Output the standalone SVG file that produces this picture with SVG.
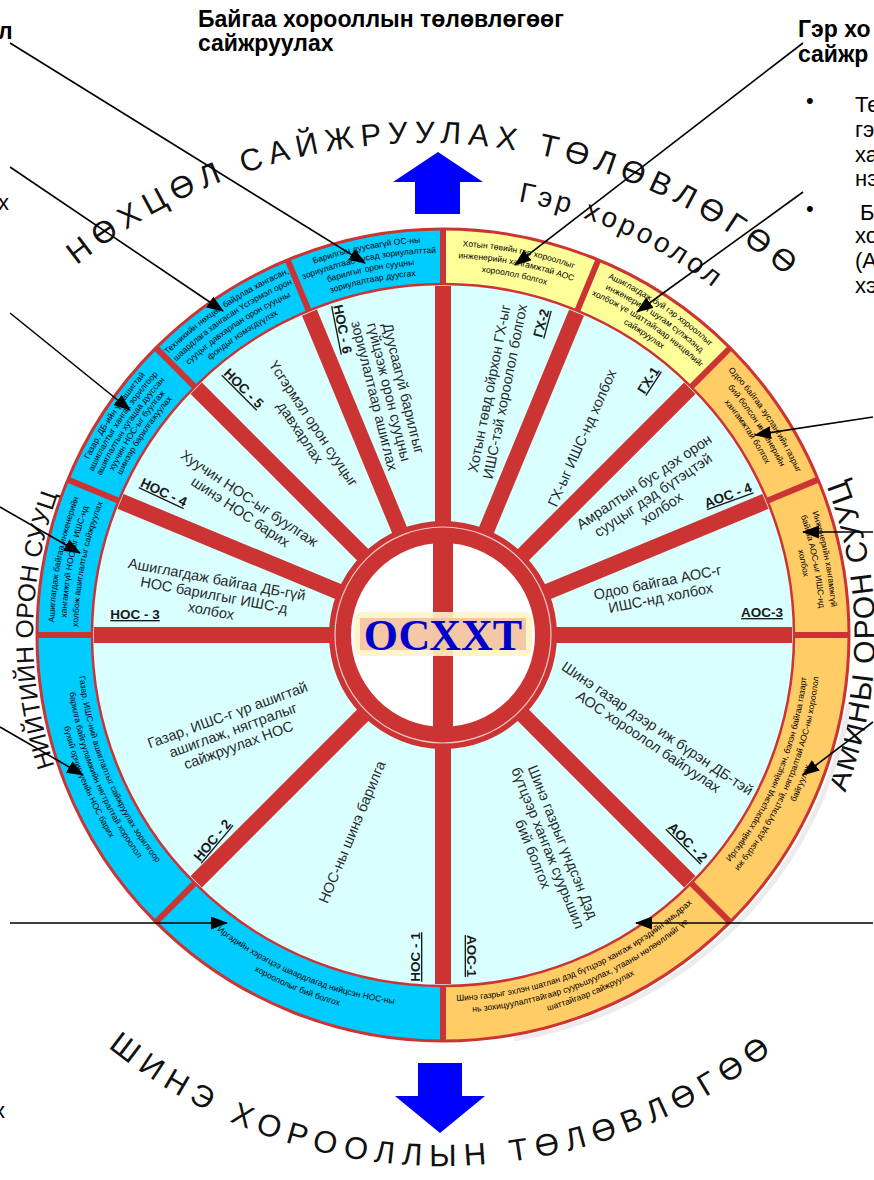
<svg xmlns="http://www.w3.org/2000/svg" width="874" height="1180" viewBox="0 0 874 1180">
<defs>
<style>
.title{font-family:"Liberation Sans",Arial,"DejaVu Sans",sans-serif;font-weight:bold;font-size:23px;fill:#000}
.body{font-family:"Liberation Sans",Arial,"DejaVu Sans",sans-serif;font-size:22px;fill:#000}
.arc{font-family:"Liberation Sans",Arial,"DejaVu Sans",sans-serif;fill:#111}
.rt{font-family:"Liberation Sans",Arial,"DejaVu Sans",sans-serif;font-size:8.5px;fill:#000;text-anchor:middle}
.it{font-family:"Liberation Sans",Arial,"DejaVu Sans",sans-serif;font-size:14.5px;fill:#2a2a2a;text-anchor:middle}
.lb{font-family:"Liberation Sans",Arial,"DejaVu Sans",sans-serif;font-size:13.5px;font-weight:bold;fill:#1a1a1a;text-anchor:middle;text-decoration:underline}
.spoke{stroke:#CC3333;stroke-width:16}
.div{stroke:#CC3333;stroke-width:6}
.conn{stroke:#000;stroke-width:1.6;fill:none;marker-end:url(#ah)}
.bigarrow{fill:#0000FF}
</style>
<marker id="ah" markerUnits="userSpaceOnUse" markerWidth="17" markerHeight="13" refX="16" refY="6.5" orient="auto">
<path d="M0,0 L17,6.5 L0,13 Z" fill="#000"/>
</marker>
<!-- spoke and ring divider, pointing up from the hub centre -->
<line id="spoke" class="spoke" x1="443" y1="635" x2="443" y2="286"/>
<line id="div" class="div" x1="443" y1="284" x2="443" y2="229"/>
<!-- arcs for the ring captions: upper ones run clockwise over the top, lower ones counter-clockwise under the bottom -->
<path id="u395" d="M163.69 355.69 A395 395 0 0 1 722.31 355.69"/>
<path id="u393" d="M165.11 357.11 A393 393 0 0 1 720.89 357.11"/>
<path id="u389" d="M167.94 359.94 A389 389 0 0 1 718.06 359.94"/>
<path id="u386" d="M170.06 362.06 A386 386 0 0 1 715.94 362.06"/>
<path id="u382" d="M172.88 364.88 A382 382 0 0 1 713.12 364.88"/>
<path id="u377" d="M176.42 368.42 A377 377 0 0 1 709.58 368.42"/>
<path id="u371" d="M180.66 372.66 A371 371 0 0 1 705.34 372.66"/>
<path id="u368" d="M182.78 374.78 A368 368 0 0 1 703.22 374.78"/>
<path id="u365" d="M184.91 376.91 A365 365 0 0 1 701.09 376.91"/>
<path id="u360" d="M188.44 380.44 A360 360 0 0 1 697.56 380.44"/>
<path id="u359" d="M189.15 381.15 A359 359 0 0 1 696.85 381.15"/>
<path id="l366" d="M184.20 893.80 A366 366 0 0 0 701.80 893.80"/>
<path id="l372" d="M179.96 898.04 A372 372 0 0 0 706.04 898.04"/>
<path id="l378" d="M175.71 902.29 A378 378 0 0 0 710.29 902.29"/>
<path id="l385" d="M170.76 907.24 A385 385 0 0 0 715.24 907.24"/>
<path id="l390" d="M167.23 910.77 A390 390 0 0 0 718.77 910.77"/>
<!-- arcs for the big captions around the wheel -->
<path id="tTop" d="M-98.4 509.5 A557 557 0 0 1 948.4 509.5"/>
<path id="tGer" d="M223 253.95 A440 440 0 0 1 883 635"/>
<path id="tLeft" d="M153.1 924.9 A410 410 0 0 1 153.1 345.1"/>
<path id="tRight" d="M748.5 940.5 A432 432 0 0 0 748.5 329.5"/>
<path id="tBot" d="M-56 816.6 A531 531 0 0 0 942 816.6"/>
</defs>

<rect width="874" height="1180" fill="#fff"/>

<!-- headings and side notes -->
<g id="heading-left">
<text class="title" x="-2" y="39">л</text>
<text class="body" x="-2" y="210">х</text>
<text class="body" x="-6" y="1118">х</text>
</g>
<g id="heading-existing">
<text class="title" x="198" y="27">Байгаа хорооллын төлөвлөгөөг</text>
<text class="title" x="198" y="51">сайжруулах</text>
</g>
<g id="heading-ger">
<text class="title" x="798" y="37">Гэр хо</text>
<text class="title" x="798" y="62">сайжр</text>
</g>
<g id="note-right">
<text class="body" x="806" y="108">•</text>
<text class="body" x="855" y="112">Те</text>
<text class="body" x="855" y="137">гэ</text>
<text class="body" x="855" y="162">ха</text>
<text class="body" x="855" y="186" fill="#FF0000">нэ</text>
<text class="body" x="806" y="216">•</text>
<text class="body" x="860" y="220">Ба</text>
<text class="body" x="855" y="243">хо</text>
<text class="body" x="855" y="268">(А</text>
<text class="body" x="855" y="293">хэ</text>
</g>

<!-- big captions on arcs -->
<g id="caption-top">
<text class="arc" font-size="31" letter-spacing="6.9" text-anchor="middle"><textPath href="#tTop" startOffset="692">НӨХЦӨЛ САЙЖРУУЛАХ ТӨЛӨВЛӨГӨӨ</textPath></text>
</g>
<g id="caption-ger">
<text class="arc" font-size="28" letter-spacing="3.5" text-anchor="middle"><textPath href="#tGer" startOffset="415">Гэр хороолол</textPath></text>
</g>
<g id="caption-left">
<text class="arc" font-size="24.5" letter-spacing="0.3" text-anchor="middle"><textPath href="#tLeft" startOffset="327">НИЙТИЙН ОРОН СУУЦ</textPath></text>
</g>
<g id="caption-right">
<text class="arc" font-size="30" letter-spacing="1.5" text-anchor="middle"><textPath href="#tRight" startOffset="50%">АМИНЫ ОРОН СУУЦ</textPath></text>
</g>
<g id="caption-bottom">
<text class="arc" font-size="31" letter-spacing="7.7" text-anchor="middle"><textPath href="#tBot" startOffset="50%">ШИНЭ ХОРООЛЛЫН ТӨЛӨВЛӨГӨӨ</textPath></text>
</g>

<!-- direction arrows -->
<g id="arrow-up"><polygon class="bigarrow" points="438,152 483,182 460,182 460,214 415,214 415,182 393,182"/></g>
<g id="arrow-down"><polygon class="bigarrow" points="418,1063 462,1063 462,1096 485,1096 440,1133 395,1096 418,1096"/></g>

<!-- the wheel -->
<g id="wheel">
<path d="M510 1035 A406 406 0 0 0 845 700" fill="none" stroke="#ececec" stroke-width="5" transform="translate(4 4)"/>
<circle cx="443" cy="635" r="378.5" fill="none" stroke="#00CCFF" stroke-width="55"/>
<path d="M443 229 A406 406 0 0 1 730.1 347.9 L691.2 386.8 A351 351 0 0 0 443 284 Z" fill="#FFFF99"/>
<path d="M730.1 347.9 A406 406 0 0 1 443 1041 L443 986 A351 351 0 0 0 691.2 386.8 Z" fill="#FFCC66"/>
<circle cx="443" cy="635" r="406" fill="none" stroke="#CC3333" stroke-width="3"/>
<circle cx="443" cy="635" r="351" fill="#D9FFFF" stroke="#CC3333" stroke-width="2.5"/>
<g id="ring-dividers">
<use href="#div"/>
<use href="#div" transform="rotate(22.5 443 635)"/>
<use href="#div" transform="rotate(45 443 635)"/>
<use href="#div" transform="rotate(67.5 443 635)"/>
<use href="#div" transform="rotate(90 443 635)"/>
<use href="#div" transform="rotate(135 443 635)"/>
<use href="#div" transform="rotate(180 443 635)"/>
<use href="#div" transform="rotate(225 443 635)"/>
<use href="#div" transform="rotate(270 443 635)"/>
<use href="#div" transform="rotate(292.5 443 635)"/>
<use href="#div" transform="rotate(315 443 635)"/>
<use href="#div" transform="rotate(337.5 443 635)"/>
</g>
<g id="spokes">
<use href="#spoke"/>
<use href="#spoke" transform="rotate(22.5 443 635)"/>
<use href="#spoke" transform="rotate(45 443 635)"/>
<use href="#spoke" transform="rotate(67.5 443 635)"/>
<use href="#spoke" transform="rotate(90 443 635)"/>
<use href="#spoke" transform="rotate(135 443 635)"/>
<use href="#spoke" transform="rotate(180 443 635)"/>
<use href="#spoke" transform="rotate(225 443 635)"/>
<use href="#spoke" transform="rotate(270 443 635)"/>
<use href="#spoke" transform="rotate(292.5 443 635)"/>
<use href="#spoke" transform="rotate(315 443 635)"/>
<use href="#spoke" transform="rotate(337.5 443 635)"/>
</g>
</g>

<!-- ring captions, one group per segment -->
<g id="ring-gh2" transform="rotate(11.25 443 635)">
<text class="rt"><textPath href="#u389" startOffset="50%">Хотын төвийн гэр хорооллыг</textPath></text>
<text class="rt"><textPath href="#u377" startOffset="50%">инженерийн хангамжтай АОС</textPath></text>
<text class="rt"><textPath href="#u365" startOffset="50%">хороолол болгох</textPath></text>
</g>
<g id="ring-gh1" transform="rotate(33.75 443 635)">
<text class="rt"><textPath href="#u393" startOffset="50%">Ашиглагдаж буй гэр хорооллыг</textPath></text>
<text class="rt"><textPath href="#u382" startOffset="50%">инженерийн шугам сүлжээнд</textPath></text>
<text class="rt"><textPath href="#u371" startOffset="50%">холбож үе шаттайгаар нөхцөлийг</textPath></text>
<text class="rt"><textPath href="#u360" startOffset="50%">сайжруулах</textPath></text>
</g>
<g id="ring-aos4" transform="rotate(56.25 443 635)">
<text class="rt"><textPath href="#u389" startOffset="50%">Одоо байгаа зуслангийн газрыг</textPath></text>
<text class="rt"><textPath href="#u377" startOffset="50%">бий болсон инженерийн</textPath></text>
<text class="rt"><textPath href="#u365" startOffset="50%">хангамжтай болгох</textPath></text>
</g>
<g id="ring-aos3" transform="rotate(78.75 443 635)">
<text class="rt"><textPath href="#u389" startOffset="50%">Инженерийн хангамжгүй</textPath></text>
<text class="rt"><textPath href="#u377" startOffset="50%">байгаа АОС-ыг ИШС-нд</textPath></text>
<text class="rt"><textPath href="#u365" startOffset="50%">холбох</textPath></text>
</g>
<g id="ring-aos2" transform="rotate(-67.5 443 635)">
<text class="rt"><textPath href="#l366" startOffset="50%">Иргэдийн хэрэгцээнд нийцсэн, бэлэн байгаа газарт</textPath></text>
<text class="rt"><textPath href="#l378" startOffset="50%">иж бүрэн дэд бүтэцтэй, нягтралтай АОС-ны хороолол</textPath></text>
<text class="rt"><textPath href="#l390" startOffset="50%">байгуулах</textPath></text>
</g>
<g id="ring-aos1" transform="rotate(-22.5 443 635)">
<text class="rt"><textPath href="#l366" startOffset="50%">Шинэ газрыг эхлэн шатлан дэд бүтцээр хангаж иргэдийн амьдрах</textPath></text>
<text class="rt"><textPath href="#l378" startOffset="50%">нь зохицуулалттайгаар суурьшуулах, утааны нөлөөллийг үе</textPath></text>
<text class="rt"><textPath href="#l390" startOffset="50%">шаттайгаар сайжруулах</textPath></text>
</g>
<g id="ring-nos1" transform="rotate(22.5 443 635)">
<text class="rt"><textPath href="#l372" startOffset="50%">Иргэдийн хэрэгцээ шаардлагад нийцсэн НОС-ны</textPath></text>
<text class="rt"><textPath href="#l385" startOffset="50%">хороололыг бий болгох</textPath></text>
</g>
<g id="ring-nos2" transform="rotate(67.5 443 635)">
<text class="rt"><textPath href="#l366" startOffset="50%">Газар, ИШС-ний ашиглалтыг сайжруулах зорилгоор</textPath></text>
<text class="rt"><textPath href="#l378" startOffset="50%">барилга байгууламжийн нягтралтай хороолол</textPath></text>
<text class="rt"><textPath href="#l390" startOffset="50%">бүхий орчин үеийн НОС барих</textPath></text>
</g>
<g id="ring-nos3" transform="rotate(-78.75 443 635)">
<text class="rt"><textPath href="#u389" startOffset="50%">Ашиглагдаж байгаа инженерийн</textPath></text>
<text class="rt"><textPath href="#u377" startOffset="50%">хангамжгүй НОС-ыг ИШС-нд</textPath></text>
<text class="rt"><textPath href="#u365" startOffset="50%">холбож ашиглалтыг сайжруулах</textPath></text>
</g>
<g id="ring-nos4" transform="rotate(-56.25 443 635)">
<text class="rt"><textPath href="#u395" startOffset="50%">Газар, ДБ-ийн үр ашигтай</textPath></text>
<text class="rt"><textPath href="#u386" startOffset="50%">ашиглалтыг хангах зорилгоор</textPath></text>
<text class="rt"><textPath href="#u377" startOffset="50%">ашиглалтын хугацаа дууссан</textPath></text>
<text class="rt"><textPath href="#u368" startOffset="50%">хуучин НОС-ыг буулгаж</textPath></text>
<text class="rt"><textPath href="#u359" startOffset="50%">шинээр барилгажуулах</textPath></text>
</g>
<g id="ring-nos5" transform="rotate(-33.75 443 635)">
<text class="rt"><textPath href="#u393" startOffset="50%">Техникийн нөхцөл байдлаа хангасан,</textPath></text>
<text class="rt"><textPath href="#u382" startOffset="50%">шаардлага хангасан Үсгэрмэл орон</textPath></text>
<text class="rt"><textPath href="#u371" startOffset="50%">сууцыг давхарлан орон сууцны</textPath></text>
<text class="rt"><textPath href="#u360" startOffset="50%">фондыг нэмэгдүүлэх</textPath></text>
</g>
<g id="ring-nos6" transform="rotate(-11.25 443 635)">
<text class="rt"><textPath href="#u393" startOffset="50%">Барилгын дуусаагүй ОС-ны</textPath></text>
<text class="rt"><textPath href="#u382" startOffset="50%">зориулалтаас бусад зориулалттай</textPath></text>
<text class="rt"><textPath href="#u371" startOffset="50%">барилгыг орон сууцны</textPath></text>
<text class="rt"><textPath href="#u360" startOffset="50%">зориулалтаар дуусгах</textPath></text>
</g>

<!-- sector statements and codes -->
<g id="sector-gh2">
<text class="it" transform="translate(497 390) rotate(-78.75)"><tspan x="0" y="-3">Хотын төвд ойрхон ГХ-ыг</tspan><tspan x="0" y="13">ИШС-тэй хороолол болгох</tspan></text>
<text class="lb" transform="translate(541 323) rotate(-75)" y="5">ГХ-2</text>
</g>
<g id="sector-gh1">
<text class="it" transform="translate(582 438) rotate(-66)" y="5">ГХ-ыг ИШС-нд холбох</text>
<text class="lb" transform="translate(648 380) rotate(-57)" y="5">ГХ-1</text>
</g>
<g id="sector-aos4">
<text class="it" transform="translate(653 495) rotate(-33.75)"><tspan x="0" y="-11">Амралтын бус дэх орон</tspan><tspan x="0" y="5">сууцыг дэд бүтэцтэй</tspan><tspan x="0" y="21">холбох</tspan></text>
<text class="lb" transform="translate(728 495) rotate(-20)" y="5">АОС - 4</text>
</g>
<g id="sector-aos3">
<text class="it" transform="translate(659 590) rotate(-11.25)"><tspan x="0" y="-3">Одоо байгаа АОС-г</tspan><tspan x="0" y="13">ИШС-нд холбох</tspan></text>
<text class="lb" transform="translate(762 612)" y="5">АОС-3</text>
</g>
<g id="sector-aos2">
<text class="it" transform="translate(653 735) rotate(34)"><tspan x="0" y="-3">Шинэ газар дээр иж бүрэн ДБ-тэй</tspan><tspan x="0" y="13">АОС хороолол байгуулах</tspan></text>
<text class="lb" transform="translate(688 842) rotate(45)" y="5">АОС - 2</text>
</g>
<g id="sector-aos1">
<text class="it" transform="translate(548 848) rotate(68)"><tspan x="0" y="-11">Шинэ газрыг үндсэн Дэд</tspan><tspan x="0" y="5">бүтцээр хангаж суурьшил</tspan><tspan x="0" y="21">бий болгох</tspan></text>
<text class="lb" transform="translate(472 956) rotate(90)" y="5">АОС-1</text>
</g>
<g id="sector-nos1">
<text class="it" transform="translate(352 832) rotate(-67.5)" y="5">НОС-ны шинэ барилга</text>
<text class="lb" transform="translate(415 957) rotate(-90)" y="5">НОС - 1</text>
</g>
<g id="sector-nos2">
<text class="it" transform="translate(233 730) rotate(-20)"><tspan x="0" y="-11">Газар, ИШС-г үр ашигтай</tspan><tspan x="0" y="5">ашиглаж, нягтралыг</tspan><tspan x="0" y="21">сайжруулах НОС</tspan></text>
<text class="lb" transform="translate(212 840) rotate(-50)" y="5">НОС - 2</text>
</g>
<g id="sector-nos3">
<text class="it" transform="translate(214 595) rotate(10.5)"><tspan x="0" y="-11">Ашиглагдаж байгаа ДБ-гүй</tspan><tspan x="0" y="5">НОС барилгыг ИШС-д</tspan><tspan x="0" y="21">холбох</tspan></text>
<text class="lb" transform="translate(135 614)" y="5">НОС - 3</text>
</g>
<g id="sector-nos4">
<text class="it" transform="translate(245 505) rotate(33.75)"><tspan x="0" y="-3">Хуучин НОС-ыг буулгаж</tspan><tspan x="0" y="13">шинэ НОС барих</tspan></text>
<text class="lb" transform="translate(164 492) rotate(25)" y="5">НОС - 4</text>
</g>
<g id="sector-nos5">
<text class="it" transform="translate(307 428) rotate(56.25)"><tspan x="0" y="-3">Үсгэрмэл орон сууцыг</tspan><tspan x="0" y="13">давхарлах</tspan></text>
<text class="lb" transform="translate(244 388) rotate(45)" y="5">НОС - 5</text>
</g>
<g id="sector-nos6">
<text class="it" font-size="14" transform="translate(389 392) rotate(76)"><tspan x="0" y="-10">Дуусаагүй барилгыг</tspan><tspan x="0" y="5">гүйцээж орон сууцны</tspan><tspan x="0" y="20">зориулалтаар ашиглах</tspan></text>
<text class="lb" transform="translate(343 329) rotate(78.75)" y="5">НОС - 6</text>
</g>

<!-- hub -->
<g id="hub">
<circle cx="443" cy="635" r="103" fill="#fff" stroke="#CC3333" stroke-width="22"/>
<circle cx="443" cy="635" r="108" fill="none" stroke="#F0C8C8" stroke-width="1.2"/>
<rect x="433" y="542" width="20" height="186" fill="#CC3333"/>
<rect x="354" y="612" width="178" height="44" rx="8" fill="#FFF3C6" opacity="0.9"/>
<rect x="360" y="618" width="166" height="32" fill="#F2C0A0" opacity="0.85"/>
<text x="443" y="650" font-family="'Liberation Serif','Times New Roman',serif" font-weight="bold" font-size="44" fill="#0000CC" text-anchor="middle">ОСХХТ</text>
</g>

<!-- pointers from the notes into the ring -->
<g id="connectors">
<line class="conn" x1="10" y1="43" x2="365" y2="263"/>
<line class="conn" x1="10" y1="167" x2="223" y2="311"/>
<line class="conn" x1="10" y1="313" x2="130" y2="410"/>
<line class="conn" x1="0" y1="507" x2="80" y2="553"/>
<line class="conn" x1="0" y1="727" x2="83" y2="775"/>
<line class="conn" x1="10" y1="923" x2="227" y2="923"/>
<line class="conn" x1="873" y1="923" x2="636" y2="923"/>
<line class="conn" x1="873" y1="722" x2="803" y2="775"/>
<line class="conn" x1="873" y1="532" x2="803" y2="532"/>
<line class="conn" x1="873" y1="417" x2="755" y2="435"/>
<line class="conn" x1="803" y1="192" x2="637" y2="312"/>
<line class="conn" x1="803" y1="43" x2="515" y2="265"/>
</g>
</svg>
